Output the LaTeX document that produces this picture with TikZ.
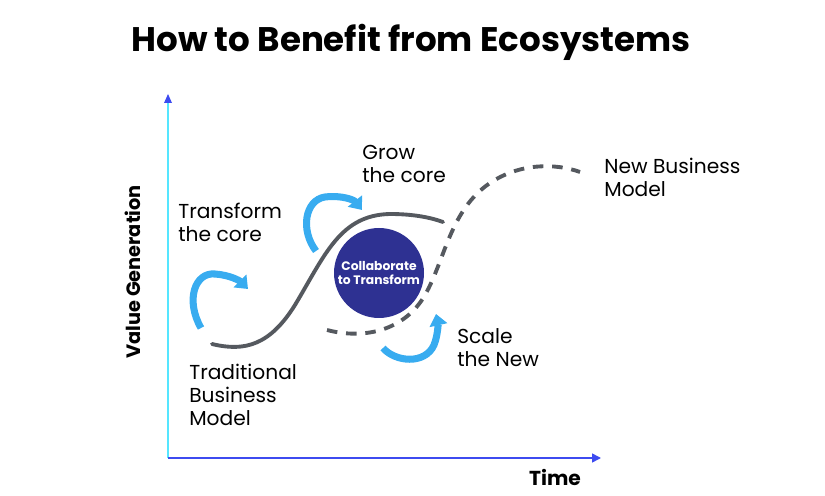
\documentclass[tikz,border=0pt]{standalone}
\usepackage{fontspec}
\setmainfont{Poppins}
\usetikzlibrary{arrows.meta}
\definecolor{axisblue}{HTML}{3D4BF0}
\definecolor{axiscyan}{HTML}{55E6FF}
\definecolor{curvegray}{HTML}{55595F}
\definecolor{arrowblue}{HTML}{38ACF0}
\definecolor{hubblue}{HTML}{2E3192}
\tikzset{
  lbl/.style={align=left, anchor=north west, inner sep=0pt, font=\fontsize{11.5}{13}\selectfont},
  bend arrow/.style={arrowblue, line width=4pt, -{Triangle[width=10pt,length=6.5pt]}},
}
\begin{document}
\begin{tikzpicture}[x=0.02cm, y=-0.02cm, >=Triangle]
		
		\useasboundingbox (0,0) rectangle (825,496);
		
		% 1. Tiêu đề
		\node[font=\bfseries\fontsize{19.4}{23}\selectfont] (title) at (411,42) {How to Benefit from Ecosystems};
		
		% 2. Hệ trục
		\coordinate (O) at (168,458);
		\draw[axiscyan, line width=0.9pt] (O) -- (168,100);
		\fill[axisblue] (168,94) -- (164,103) -- (172,103) -- cycle;
		\draw[axisblue, line width=0.9pt, -{Triangle[width=5pt,length=5pt]}] (O) -- (601,458);
		\node[rotate=90, font=\bfseries\fontsize{11}{13}\selectfont] (yl) at (133,272) {Value Generation};
		\node[font=\bfseries\fontsize{11.5}{13}\selectfont] (xl) at (555,477) {Time};
		
		% 3. Đường cong S (liền) và đường mới (nét đứt)
		\draw[curvegray, line width=2.2pt, line cap=round] (212,344)
		.. controls (245,352) and (270,345) .. (295,305)
		.. controls (325,255) and (340,215) .. (390,214)
		.. controls (415,214) and (432,218) .. (443,222);
		\draw[curvegray, line width=2.2pt, dash pattern=on 6pt off 5pt] (327,330)
		.. controls (365,340) and (405,330) .. (425,295)
		.. controls (445,260) and (450,210) .. (490,183)
		.. controls (520,163) and (555,163) .. (580,172);
		
		% 4. Vòng tròn trung tâm
		\node[circle, fill=hubblue, minimum size=90*0.02cm, inner sep=0pt, text=white, align=center,
		font=\bfseries\fontsize{7}{8.5}\selectfont] (hub) at (379,273) {Collaborate\\to Transform};
		
		% 5. Mũi tên cong xanh
		\draw[bend arrow] (201,328) .. controls (185,300) and (195,272) .. (215,274)
		.. controls (230,275) and (240,281) .. (248,289);
		\draw[bend arrow] (316,251) .. controls (300,230) and (305,200) .. (325,197)
		.. controls (342,195) and (354,200) .. (362,210);
		\draw[bend arrow] (383,348) .. controls (395,362) and (425,365) .. (434,345)
		.. controls (438,335) and (438,323) .. (436,314);
		
		% 6. Nhãn
		\node[lbl] (transform) at (178,203) {Transform\\the core};
		\node[lbl] (grow) at (362,145) {Grow\\the core};
		\node[lbl] (newbm) at (604,158) {New Business\\Model};
		\node[lbl] (scale) at (457,328) {Scale\\the New};
		\node[lbl] (tradbm) at (189,364) {Traditional\\Business\\Model};
		
	\end{tikzpicture}
\end{document}
